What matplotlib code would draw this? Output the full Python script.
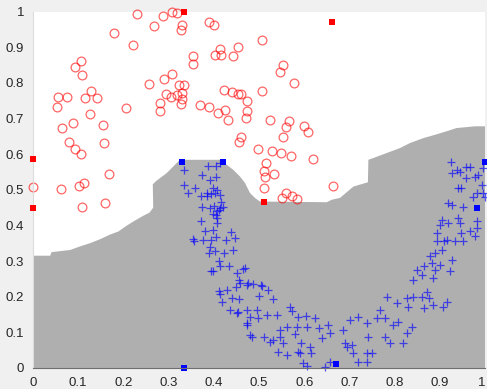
import matplotlib
matplotlib.use("Agg")
import matplotlib.pyplot as plt
import numpy as np

# classe 1 (cercles rouges)
circle_x = [0.229, 0.287, 0.308, 0.318, 0.267, 0.329, 0.327, 0.180, 0.221, 0.106,
            0.092, 0.108, 0.307, 0.290, 0.257, 0.323, 0.335, 0.129, 0.056, 0.076,
            0.116, 0.142, 0.295, 0.305, 0.319, 0.330, 0.330, 0.280, 0.327, 0.052,
            0.206, 0.281, 0.125, 0.064, 0.088, 0.154, 0.080, 0.094, 0.106, 0.156,
            0.169, 0.000, 0.061, 0.101, 0.112, 0.159, 0.109, 0.354, 0.353, 0.389,
            0.400, 0.403, 0.414, 0.417, 0.443, 0.453, 0.423, 0.440, 0.454, 0.461,
            0.474, 0.369, 0.390, 0.410, 0.425, 0.431, 0.471, 0.473, 0.461, 0.455,
            0.507, 0.552, 0.546, 0.578, 0.506, 0.524, 0.566, 0.560, 0.600, 0.609,
            0.552, 0.497, 0.529, 0.548, 0.571, 0.619, 0.515, 0.511, 0.533, 0.513,
            0.663, 0.510, 0.560, 0.551, 0.574, 0.585]
circle_y = [0.994, 0.988, 1.000, 0.997, 0.960, 0.963, 0.947, 0.940, 0.905, 0.862,
            0.843, 0.822, 0.825, 0.810, 0.798, 0.794, 0.793, 0.777, 0.760, 0.760,
            0.758, 0.758, 0.769, 0.761, 0.766, 0.772, 0.754, 0.744, 0.741, 0.732,
            0.729, 0.722, 0.713, 0.673, 0.687, 0.682, 0.634, 0.615, 0.601, 0.631,
            0.545, 0.508, 0.503, 0.510, 0.519, 0.464, 0.451, 0.876, 0.854, 0.970,
            0.961, 0.879, 0.895, 0.879, 0.874, 0.900, 0.779, 0.775, 0.769, 0.769,
            0.748, 0.739, 0.732, 0.715, 0.725, 0.695, 0.701, 0.722, 0.648, 0.633,
            0.920, 0.850, 0.831, 0.800, 0.777, 0.695, 0.692, 0.677, 0.678, 0.662,
            0.647, 0.615, 0.608, 0.604, 0.596, 0.587, 0.575, 0.552, 0.545, 0.535,
            0.511, 0.504, 0.492, 0.477, 0.482, 0.475]

# classe 2 (croix bleues)
plus_x = [0.333, 0.388, 0.405, 0.414, 0.333, 0.344, 0.358, 0.373, 0.392, 0.405,
          0.399, 0.403, 0.408, 0.384, 0.414, 0.373, 0.392, 0.414, 0.421, 0.406,
          0.384, 0.405, 0.417, 0.372, 0.394, 0.400, 0.411, 0.399, 0.408, 0.406,
          0.372, 0.399, 0.381, 0.353, 0.357, 0.376, 0.394, 0.404, 0.426, 0.438,
          0.447, 0.392, 0.403, 0.389, 0.423, 0.442, 0.412, 0.414, 0.434, 0.394,
          0.399, 0.451, 0.469, 0.456, 0.449, 0.473, 0.411, 0.429, 0.419, 0.440,
          0.414, 0.455, 0.436, 0.451, 0.454, 0.473, 0.479, 0.465, 0.458, 0.476,
          0.486, 0.504, 0.507, 0.521, 0.501, 0.532, 0.473, 0.495, 0.480, 0.498,
          0.517, 0.539, 0.569, 0.574, 0.587, 0.603, 0.624, 0.473, 0.484, 0.510,
          0.532, 0.546, 0.561, 0.583, 0.606, 0.633, 0.653, 0.524, 0.546, 0.554,
          0.580, 0.594, 0.613, 0.639, 0.657, 0.543, 0.561, 0.587, 0.591, 0.614,
          0.598, 0.606, 0.646, 0.657, 0.686, 0.690, 0.694, 0.705, 0.709, 0.720,
          0.701, 0.720, 0.738, 0.742, 0.738, 0.749, 0.738, 0.760, 0.768, 0.779,
          0.783, 0.779, 0.790, 0.797, 0.805, 0.808, 0.819, 0.827, 0.830, 0.838,
          0.827, 0.841, 0.860, 0.871, 0.875, 0.864, 0.886, 0.915, 0.908, 0.841,
          0.860, 0.849, 0.864, 0.882, 0.900, 0.889, 0.886, 0.926, 0.923, 0.878,
          0.889, 0.904, 0.893, 0.909, 0.893, 0.900, 0.904, 0.919, 0.915, 0.934,
          0.952, 0.948, 0.967, 0.978, 0.982, 0.982, 0.945, 0.941, 0.919, 0.926,
          0.951, 0.974, 0.983, 1.000, 0.925, 0.937, 0.945, 0.959, 0.967, 0.996,
          0.926, 0.959, 0.978, 0.985, 0.993, 0.941, 0.948, 0.996]
plus_y = [0.556, 0.567, 0.567, 0.575, 0.514, 0.491, 0.505, 0.542, 0.528, 0.537,
          0.505, 0.491, 0.500, 0.491, 0.486, 0.453, 0.449, 0.449, 0.453, 0.439,
          0.482, 0.430, 0.467, 0.483, 0.489, 0.455, 0.442, 0.433, 0.421, 0.406,
          0.411, 0.388, 0.383, 0.362, 0.355, 0.358, 0.359, 0.367, 0.360, 0.381,
          0.364, 0.339, 0.329, 0.322, 0.322, 0.331, 0.301, 0.285, 0.285, 0.272,
          0.272, 0.266, 0.280, 0.247, 0.228, 0.233, 0.217, 0.219, 0.186, 0.196,
          0.208, 0.193, 0.163, 0.154, 0.158, 0.121, 0.093, 0.278, 0.238, 0.238,
          0.236, 0.234, 0.230, 0.219, 0.202, 0.194, 0.163, 0.163, 0.144, 0.140,
          0.149, 0.149, 0.172, 0.160, 0.142, 0.146, 0.140, 0.126, 0.088, 0.088,
          0.079, 0.107, 0.116, 0.116, 0.116, 0.113, 0.121, 0.074, 0.088, 0.069,
          0.095, 0.069, 0.060, 0.083, 0.097, 0.046, 0.037, 0.046, 0.041, 0.041,
          0.013, 0.006, 0.004, 0.018, 0.107, 0.069, 0.060, 0.065, 0.041, 0.018,
          0.135, 0.144, 0.126, 0.088, 0.041, 0.041, 0.018, 0.140, 0.163, 0.140,
          0.200, 0.088, 0.069, 0.121, 0.182, 0.130, 0.069, 0.097, 0.172, 0.116,
          0.196, 0.200, 0.200, 0.214, 0.196, 0.168, 0.177, 0.186, 0.172, 0.247,
          0.261, 0.275, 0.285, 0.294, 0.289, 0.275, 0.252, 0.303, 0.271, 0.313,
          0.322, 0.331, 0.355, 0.355, 0.378, 0.402, 0.416, 0.406, 0.360, 0.355,
          0.355, 0.378, 0.383, 0.369, 0.392, 0.411, 0.406, 0.420, 0.463, 0.458,
          0.451, 0.481, 0.491, 0.481, 0.578, 0.556, 0.549, 0.565, 0.565, 0.561,
          0.547, 0.533, 0.537, 0.542, 0.514, 0.505, 0.505, 0.491]

# carrés (échantillons particuliers)
red_sq_x = [0.000, 0.000, 0.333, 0.662, 0.510]
red_sq_y = [0.585, 0.450, 1.000, 0.971, 0.467]
blue_sq_x = [0.329, 0.420, 1.000, 0.982, 0.670, 0.333]
blue_sq_y = [0.579, 0.579, 0.578, 0.450, 0.012, 0.000]

# frontière de décision (haut de la zone grise)
bound_x = [0.000, 0.038, 0.041, 0.082, 0.104, 0.126, 0.148, 0.170, 0.189, 0.207,
           0.222, 0.244, 0.258, 0.266, 0.265, 0.272, 0.296, 0.325, 0.414, 0.443,
           0.458, 0.469, 0.480, 0.491, 0.502, 0.650, 0.661, 0.679, 0.709, 0.741,
           0.742, 0.753, 0.812, 0.834, 0.864, 0.889, 0.915, 0.937, 0.978, 1.000]
bound_y = [0.315, 0.315, 0.325, 0.331, 0.341, 0.350, 0.361, 0.374, 0.383, 0.399,
           0.411, 0.427, 0.436, 0.450, 0.515, 0.524, 0.547, 0.584, 0.584, 0.556,
           0.537, 0.519, 0.491, 0.477, 0.467, 0.465, 0.472, 0.477, 0.509, 0.521,
           0.584, 0.589, 0.617, 0.631, 0.645, 0.654, 0.664, 0.673, 0.678, 0.678]

fig = plt.figure(figsize=(4.87, 3.89), dpi=100, facecolor='#f0f0f0')
ax = fig.add_axes([33 / 487, 21 / 389, 452 / 487, 356.5 / 389])
ax.set_facecolor('white')

ax.fill(np.r_[bound_x, 1.0, 0.0], np.r_[bound_y, 0.0, 0.0],
        color='#afafaf', lw=0, zorder=0)

ax.plot(circle_x, circle_y, 'o', ms=6.3, mfc='none', mec=(1, 0, 0, 0.6),
        mew=0.9, clip_on=False, zorder=2)
ax.plot(plus_x, plus_y, '+', ms=6.2, mec=(0, 0, 1, 0.65), mew=0.9,
        clip_on=False, zorder=2)
ax.plot(red_sq_x, red_sq_y, 's', ms=4.3, color='red', mew=0, clip_on=False, zorder=3)
ax.plot(blue_sq_x, blue_sq_y, 's', ms=4.3, color='blue', mew=0, clip_on=False, zorder=3)

ax.set_xlim(0, 1)
ax.set_ylim(0, 1)
ticks = np.arange(0, 1.01, 0.1)
labels = ['0'] + ['%.1f' % t for t in ticks[1:-1]] + ['1']
ax.set_xticks(ticks)
ax.set_xticklabels(labels)
ax.set_yticks(ticks)
ax.set_yticklabels(labels)
ax.tick_params(length=0, labelsize=9.5, labelcolor='#262626', pad=6.5)
for lab in ax.get_xticklabels() + ax.get_yticklabels():
  lab.set_fontfamily('Liberation Sans')
# le dernier label de x touche le bord de la figure
ax.get_xticklabels()[-1].set_horizontalalignment('right')

ax.spines['top'].set_visible(False)
ax.spines['right'].set_visible(False)
ax.spines['left'].set_color('#dcdcdc')
ax.spines['bottom'].set_color('#6e6e6e')
ax.spines['bottom'].set_zorder(4)

fig.savefig('out.png', dpi=100, facecolor=fig.get_facecolor())
